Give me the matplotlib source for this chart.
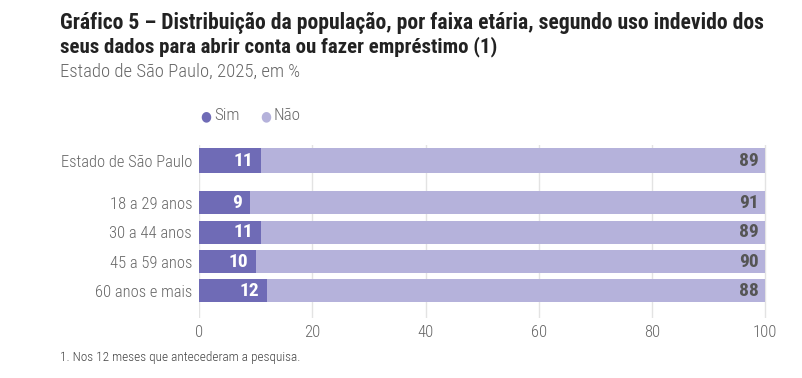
import matplotlib
matplotlib.use("Agg")
import matplotlib.pyplot as plt

categories = ["Estado de São Paulo", "18 a 29 anos", "30 a 44 anos", "45 a 59 anos", "60 anos e mais"]
sim = [11, 9, 11, 10, 12]
nao = [89, 91, 89, 90, 88]
xticks = [0, 20, 40, 60, 80, 100]

plt.rcParams["font.family"] = ["Roboto Condensed", "Fira Sans Condensed", "Liberation Sans Narrow",
                               "Roboto", "DejaVu Sans"]
plt.rcParams["font.stretch"] = "condensed"

C_SIM = "#6f6bb6"
C_NAO = "#b5b2db"
GRAY = "#666666"

fig = plt.figure(figsize=(8.03, 3.78), dpi=100)
renderer = fig.canvas.get_renderer()


def fit(t, width_px):
    # scale font size so that the text spans the width seen in the reference
    w = t.get_window_extent(renderer).width
    t.set_fontsize(t.get_fontsize() * width_px / w)
    return t


ax = fig.add_axes([199 / 803, 1 - 318 / 378, 568 / 803, 173 / 378])

ypos = [0, 1.42, 2.42, 3.42, 4.42]
heights = [0.85, 0.78, 0.78, 0.78, 0.78]
ax.barh(ypos, sim, height=heights, color=C_SIM, zorder=2)
ax.barh(ypos, nao, left=sim, height=heights, color=C_NAO, zorder=2)

for y, s, n in zip(ypos, sim, nao):
    ax.text(s - 1.4, y, str(s), ha="right", va="center", color="white",
            fontsize=14, fontweight="bold", zorder=3)
    ax.text(s + n - 1.2, y, str(n), ha="right", va="center", color="#555555",
            fontsize=14, fontweight="bold", zorder=3)

ax.set_xlim(0, 100.3)
ax.set_ylim(5.34, -0.54)
ax.set_xticks(xticks)
ax.set_xticklabels([str(t) for t in xticks], color=GRAY, fontsize=12.5, fontweight="light")
ax.set_yticks(ypos)
ax.set_yticklabels(categories, color=GRAY, fontsize=13, fontweight="light")
ax.tick_params(length=0, pad=5)
ax.grid(axis="x", color="#e3e3e3", linewidth=1, zorder=0)
for s in ax.spines.values():
    s.set_visible(False)

fig.canvas.draw()
lab0 = ax.get_yticklabels()[0]
scale = 131 / lab0.get_window_extent(renderer).width
for lab in ax.get_yticklabels():
    lab.set_fontsize(13 * scale)
for lab in ax.get_xticklabels():
    lab.set_fontsize(13 * scale)

fit(fig.text(60 / 803, 1 - 23 / 378, "Gráfico 5 – Distribuição da população, por faixa etária, segundo uso indevido dos",
             fontsize=14, fontweight="bold", color="#222222", va="center"), 705)
fit(fig.text(60 / 803, 1 - 47 / 378, "seus dados para abrir conta ou fazer empréstimo (1)",
             fontsize=14, fontweight="bold", color="#222222", va="center"), 440)
fit(fig.text(60 / 803, 1 - 72 / 378, "Estado de São Paulo, 2025, em %",
             fontsize=13, color=GRAY, va="center", fontweight="light"), 238)

# legend
fig.text(206 / 803, 1 - 116 / 378, "●", color=C_SIM, fontsize=10, va="center", ha="center",
         family="DejaVu Sans")
fig.text(214 / 803, 1 - 116 / 378, "Sim", color=GRAY, fontsize=13.5 * scale, va="center",
         fontweight="light")
fig.text(266 / 803, 1 - 116 / 378, "●", color=C_NAO, fontsize=10, va="center", ha="center",
         family="DejaVu Sans")
fig.text(274 / 803, 1 - 116 / 378, "Não", color=GRAY, fontsize=13.5 * scale, va="center",
         fontweight="light")

fit(fig.text(60 / 803, 1 - 358 / 378, "1. Nos 12 meses que antecederam a pesquisa.",
             fontsize=9.5, color="#444444", va="center", fontweight="light"), 241)

fig.savefig("out.png", dpi=100)
